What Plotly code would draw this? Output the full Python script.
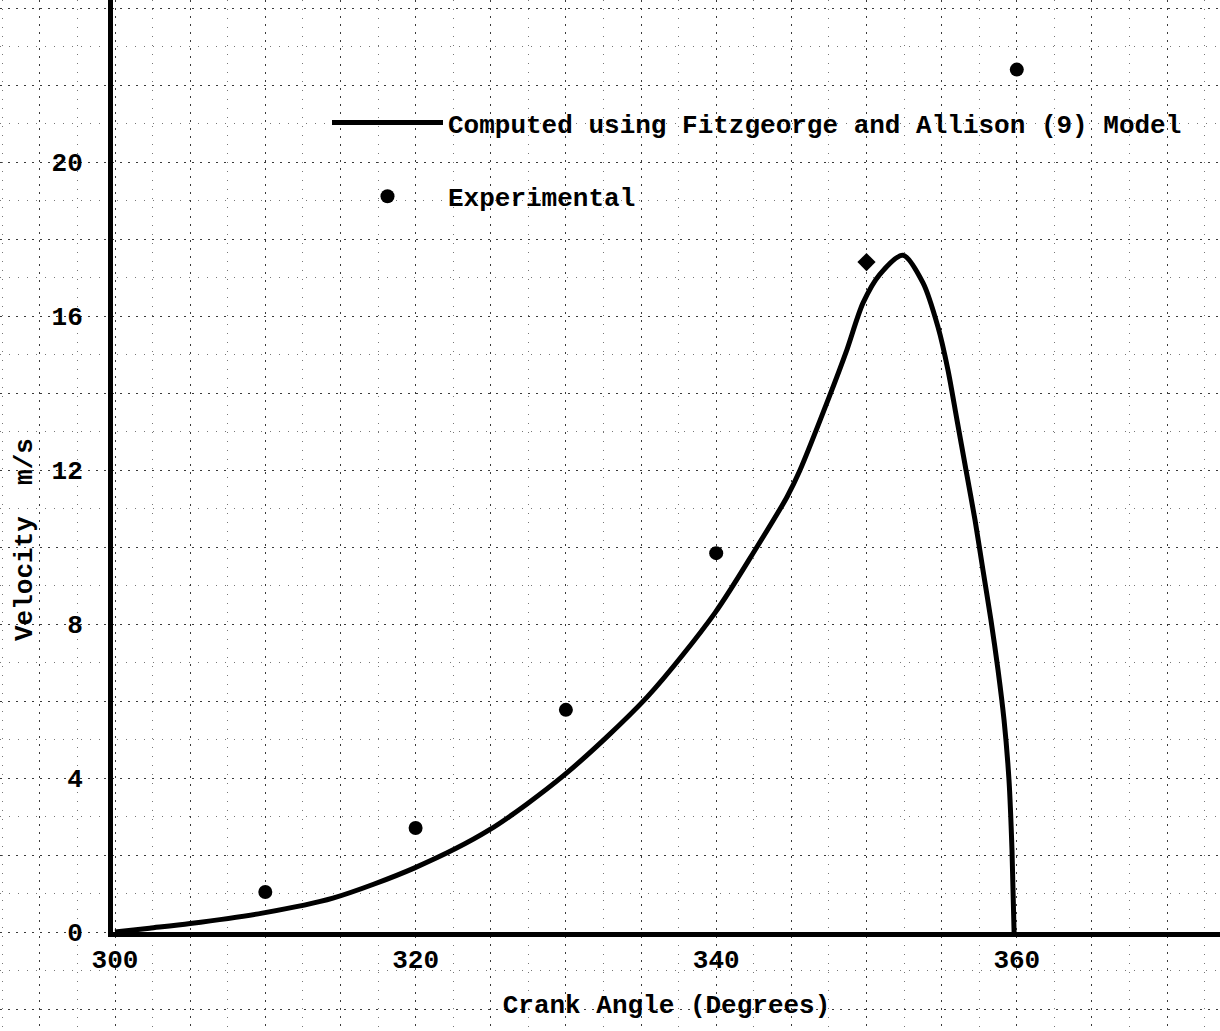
import plotly.graph_objects as go

# ---- data ----
computed_angle = [300.0, 302.3, 305.0, 309.8, 314.5, 319.9, 324.9, 329.9, 335.4, 339.92,
                  342.71, 344.71, 345.58, 347.57, 348.64, 349.77, 350.90, 352.43, 353.76,
                  354.76, 355.42, 356.02, 356.62, 357.22, 357.75, 358.28, 358.75, 359.15,
                  359.48, 359.68, 359.82]
computed_velocity = [0.0, 0.1, 0.22, 0.49, 0.88, 1.66, 2.65, 4.08, 6.10, 8.29,
                     10.0, 11.30, 12.0, 13.95, 15.06, 16.34, 17.09, 17.58, 16.86,
                     15.71, 14.60, 13.30, 12.00, 10.70, 9.40, 8.10, 6.81, 5.51,
                     3.95, 2.13, 0.0]

exp_angle = [310, 320, 330, 340, 350, 360]
exp_velocity = [1.04, 2.7, 5.77, 9.84, 17.4, 22.4]
exp_symbols = ["circle", "circle", "circle", "circle", "diamond", "circle"]

x_tick_vals = [300, 320, 340, 360]
x_tick_text = ["300", "320", "340", "360"]
y_tick_vals = [0, 4, 8, 12, 16, 20]
y_tick_text = ["0", "4", "8", "12", "16", "20"]

label_computed = "Computed using Fitzgeorge and Allison (9) Model"
label_exp = "Experimental"
x_title = "Crank Angle (Degrees)"
y_title = "Velocity  m/s"

# ---- geometry (pixel mapping of the scanned sheet) ----
W, H = 1220, 1031
PX_X0, DEG_PER_PX = 115, 1 / 15.03     # x pixel of 300 deg
PY_Y0, UNIT_PER_PX = 932, 1 / 38.5      # y pixel of 0 m/s
AXIS_PX = 113

def deg_at(px):
    return 300 + (px - PX_X0) * DEG_PER_PX

def vel_at(py):
    return (PY_Y0 - py) * UNIT_PER_PX

FONT = "Liberation Mono"
def f(size=26):
    return dict(family=FONT, size=size, color="black", weight="bold")

fig = go.Figure()

fig.add_trace(go.Scatter(
    x=computed_angle, y=computed_velocity, mode="lines",
    line=dict(color="black", width=5, shape="spline", smoothing=0.8),
    name=label_computed, legendgroup="a", xaxis="x", yaxis="y",
))
fig.add_trace(go.Scatter(
    x=exp_angle, y=exp_velocity, mode="markers",
    marker=dict(color="black", size=14, symbol=exp_symbols),
    name=label_exp, legendgroup="b", xaxis="x", yaxis="y",
))
# anchor trace for the framed axes
fig.add_trace(go.Scatter(x=[None], y=[None], xaxis="x2", yaxis="y2",
                         showlegend=False, hoverinfo="skip"))

grid_major = dict(showgrid=True, gridcolor="#3a3a3a", gridwidth=1, griddash="2px,6px")
fig.update_layout(
    template="none",
    width=W, height=H,
    margin=dict(l=0, r=0, t=0, b=0, pad=0, autoexpand=False),
    paper_bgcolor="white", plot_bgcolor="rgba(0,0,0,0)",
    font=f(),
    showlegend=True,
    legend=dict(x=327 / W, y=1 - 99 / H, xanchor="left", yanchor="top",
                bgcolor="rgba(0,0,0,0)", borderwidth=0, tracegroupgap=37,
                itemwidth=111, font=f()),
    # full-sheet graph paper axes (carry the data)
    xaxis=dict(domain=[0, 1], range=[deg_at(0), deg_at(W)], anchor="y", automargin=False,
               tick0=300, dtick=5, showticklabels=False, ticks="", zeroline=False,
               showline=False, **grid_major,
               minor=dict(dtick=2.5, showgrid=True, gridcolor="#777777", gridwidth=1,
                          griddash="1px,8px")),
    yaxis=dict(domain=[0, 1], range=[vel_at(H), vel_at(0)], anchor="x", automargin=False,
               tick0=0, dtick=2, showticklabels=False, ticks="", zeroline=False,
               showline=False, **grid_major,
               minor=dict(dtick=1, showgrid=True, gridcolor="#777777", gridwidth=1,
                          griddash="1px,8px")),
    # framed axes with labels
    xaxis2=dict(domain=[AXIS_PX / W, 1], range=[deg_at(AXIS_PX), deg_at(W)], anchor="y2",
                automargin=False,
                tickmode="array", tickvals=x_tick_vals, ticktext=x_tick_text,
                ticks="", ticklabelstandoff=0, showgrid=False, zeroline=False,
                showline=True, linecolor="black", linewidth=5, tickfont=f(),
                title=dict(text=x_title, standoff=21, font=f())),
    yaxis2=dict(domain=[(H - PY_Y0) / H, 1], range=[0, vel_at(0)], anchor="x2",
                automargin=False,
                tickmode="array", tickvals=y_tick_vals, ticktext=y_tick_text,
                ticks="", ticklabelstandoff=20, showgrid=False, zeroline=False,
                showline=True, linecolor="black", linewidth=5, tickfont=f()),
    annotations=[dict(text=y_title, xref="paper", yref="paper",
                      x=25 / W, y=1 - 540 / H, textangle=-90, showarrow=False,
                      xanchor="center", yanchor="middle", font=f())],
)

fig.write_html("out.html", config={"displayModeBar": False},
               post_script="document.body.style.margin='0px';document.body.style.overflow='hidden';")
